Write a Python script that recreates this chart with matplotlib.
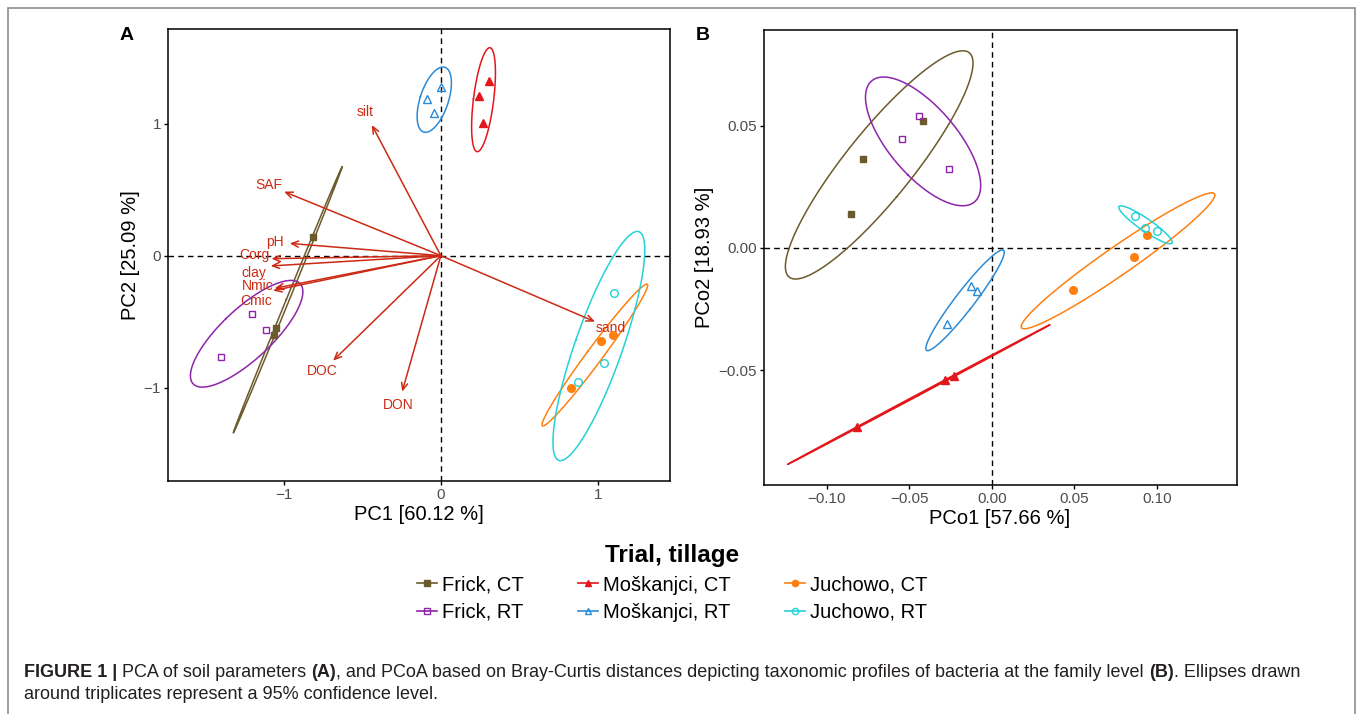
import numpy as np
import matplotlib
matplotlib.use("Agg")
import matplotlib.pyplot as plt
from matplotlib.lines import Line2D
from matplotlib.patches import Rectangle
from matplotlib.ticker import FuncFormatter

plt.rcParams['font.family'] = ['Liberation Sans', 'DejaVu Sans']

groups = ["Frick, CT", "Frick, RT", "Moškanjci, CT", "Moškanjci, RT", "Juchowo, CT", "Juchowo, RT"]
colors = ["#6b5a2b", "#8e24aa", "#e3171b", "#2a8bd8", "#ff7f0e", "#22d2d8"]
markers = ["s", "s", "^", "^", "o", "o"]
filled = [True, False, True, False, True, False]

# panel A: PCA scores, three replicates per group
pca_x = [[-0.81, -1.05, -1.06], [-1.198, -1.111, -1.396], [0.305, 0.244, 0.265],
         [0.004, -0.085, -0.045], [1.016, 1.094, 0.827], [1.103, 1.039, 0.872]]
pca_y = [[0.141, -0.545, -0.598], [-0.444, -0.561, -0.77], [1.326, 1.21, 1.008],
         [1.28, 1.187, 1.078], [-0.649, -0.604, -1.005], [-0.283, -0.816, -0.955]]

# soil parameter loadings
params = ["silt", "SAF", "pH", "Corg", "clay", "Nmic", "Cmic", "DOC", "DON", "sand"]
load_x = [-0.439, -0.997, -0.961, -1.077, -1.082, -1.056, -1.067, -0.685, -0.246, 0.98]
load_y = [0.99, 0.485, 0.093, -0.023, -0.078, -0.247, -0.265, -0.795, -1.03, -0.5]

# panel B: PCoA scores
pcoa_x = [[-0.0417, -0.0778, -0.085], [-0.0443, -0.0543, -0.0262], [-0.0229, -0.0281, -0.0815],
          [-0.0125, -0.0089, -0.0272], [0.0491, 0.0863, 0.0938], [0.0867, 0.0925, 0.0999]]
pcoa_y = [[0.0519, 0.0363, 0.0139], [0.054, 0.0445, 0.0325], [-0.0525, -0.0541, -0.0735],
          [-0.0156, -0.0176, -0.0311], [-0.0173, -0.0038, 0.0053], [0.0131, 0.0083, 0.0071]]

arrow_col = "#cc2a14"
tick_col = "#4d4d4d"
# small vertical nudges (points) so crowded loading labels stay readable
label_nudge = {"Corg": 3, "clay": -4, "Nmic": 4, "Cmic": -5}


def conf_ellipse(x, y, conf=0.95, n=200):
    pts = np.column_stack([x, y])
    c = pts.mean(axis=0)
    vals, vecs = np.linalg.eigh(np.cov(pts.T))
    r = np.sqrt(-2 * np.log(1 - conf))
    t = np.linspace(0, 2 * np.pi, n)
    circ = np.vstack([np.cos(t), np.sin(t)])
    e = vecs @ (np.sqrt(np.clip(vals, 0, None))[:, None] * circ) * r
    return c[0] + e[0], c[1] + e[1]


def draw_groups(ax, xs, ys):
    for x, y, c in zip(xs, ys, colors):
        ex, ey = conf_ellipse(x, y)
        ax.plot(ex, ey, color=c, lw=1.1, zorder=2)
    for x, y, c, m, f in zip(xs, ys, colors, markers, filled):
        ax.plot(x, y, ls="none", marker=m, ms=5.5 if m != "s" else 5,
                mfc=c if f else "none", mec=c, mew=1, zorder=4)


def minus(fmt):
    return FuncFormatter(lambda v, p: (fmt % v).replace("-", "\u2212"))


def style(ax):
    for s in ax.spines.values():
        s.set_linewidth(1.1)
        s.set_color("black")
    ax.tick_params(labelsize=11, labelcolor=tick_col, length=3, width=1, pad=2)
    ax.axhline(0, color="black", lw=1, dashes=(4, 3), zorder=1)
    ax.axvline(0, color="black", lw=1, dashes=(4, 3), zorder=1)


fig = plt.figure(figsize=(13.58, 7.14), dpi=100)

axA = fig.add_axes([168 / 1358, 1 - 481 / 714, 502 / 1358, 452 / 714])
style(axA)
draw_groups(axA, pca_x, pca_y)
for name, lx, ly in zip(params, load_x, load_y):
    axA.annotate("", xy=(lx, ly), xytext=(0, 0),
                 arrowprops=dict(arrowstyle="->,head_length=0.5,head_width=0.22",
                                 color=arrow_col, lw=1.1, shrinkA=0, shrinkB=0), zorder=3)
    axA.annotate(name, (1.1 * lx, 1.1 * ly), xytext=(0, label_nudge.get(name, 0)),
                 textcoords="offset points", color=arrow_col, fontsize=10,
                 ha="center", va="center", zorder=3)
axA.set_xlim(-1.735, 1.457)
axA.set_ylim(-1.707, 1.717)
axA.set_xticks([-1, 0, 1])
axA.set_yticks([-1, 0, 1])
axA.xaxis.set_major_formatter(minus("%g"))
axA.yaxis.set_major_formatter(minus("%g"))
axA.set_xlabel("PC1 [60.12 %]", fontsize=14.5, labelpad=2)
axA.set_ylabel("PC2 [25.09 %]", fontsize=14.5, labelpad=3)

axB = fig.add_axes([763.5 / 1358, 1 - 485 / 714, 473 / 1358, 455 / 714])
style(axB)
draw_groups(axB, pcoa_x, pcoa_y)
axB.set_xlim(-0.1382, 0.1481)
axB.set_ylim(-0.0971, 0.0893)
axB.set_xticks([-0.10, -0.05, 0.0, 0.05, 0.10])
axB.set_yticks([-0.05, 0.0, 0.05])
axB.xaxis.set_major_formatter(minus("%.2f"))
axB.yaxis.set_major_formatter(minus("%.2f"))
axB.set_xlabel("PCo1 [57.66 %]", fontsize=14.5, labelpad=2)
axB.set_ylabel("PCo2 [18.93 %]", fontsize=14.5, labelpad=3)

fig.text(127 / 1358, 1 - 36 / 714, "A", fontsize=14, fontweight="bold", ha="center", va="center")
fig.text(703 / 1358, 1 - 36 / 714, "B", fontsize=14, fontweight="bold", ha="center", va="center")

handles = [Line2D([], [], color=c, marker=m, ms=4.5, mfc=c if f else "none", mec=c, lw=1.2)
           for c, m, f in zip(colors, markers, filled)]
leg = fig.legend(handles, groups, ncol=3, loc="upper center", bbox_to_anchor=(0.495, 1 - 536 / 714),
                 frameon=False, fontsize=14.5, title="Trial, tillage",
                 title_fontproperties={"size": 17.5, "weight": "bold"},
                 handlelength=1.0, handletextpad=0.25, columnspacing=2.7, labelspacing=0.42,
                 borderaxespad=0)

# outer frame
fig.patches.append(Rectangle((8 / 1358, -0.05), 1347 / 1358, 1.05 - 8 / 714, transform=fig.transFigure,
                             fill=False, ec="#8c8c8c", lw=1.2))

# caption with mixed weights
renderer = fig.canvas.get_renderer()
cap_size = 13


def text_w(s, weight):
    t = fig.text(0, 0, s, fontsize=cap_size, fontweight=weight)
    w = t.get_window_extent(renderer).width
    t.remove()
    return w


space_w = text_w("a a", "normal") - text_w("aa", "normal")


def draw_runs(x, y, runs):
    for s, weight in runs:
        if s.startswith(" "):
            x += space_w
        t = fig.text(x / 1358, 1 - y / 714, s.strip(), fontsize=cap_size, fontweight=weight,
                     color="#231f20", va="baseline")
        x += t.get_window_extent(renderer).width
        if s.endswith(" "):
            x += space_w


draw_runs(24, 677, [("FIGURE 1 |", "bold"), (" PCA of soil parameters ", "normal"), ("(A)", "bold"),
                    (", and PCoA based on Bray-Curtis distances depicting taxonomic profiles of bacteria at the family level ", "normal"),
                    ("(B)", "bold"), (". Ellipses drawn", "normal")])
draw_runs(24, 699, [("around triplicates represent a 95% confidence level.", "normal")])

fig.savefig("out.png", dpi=100)
